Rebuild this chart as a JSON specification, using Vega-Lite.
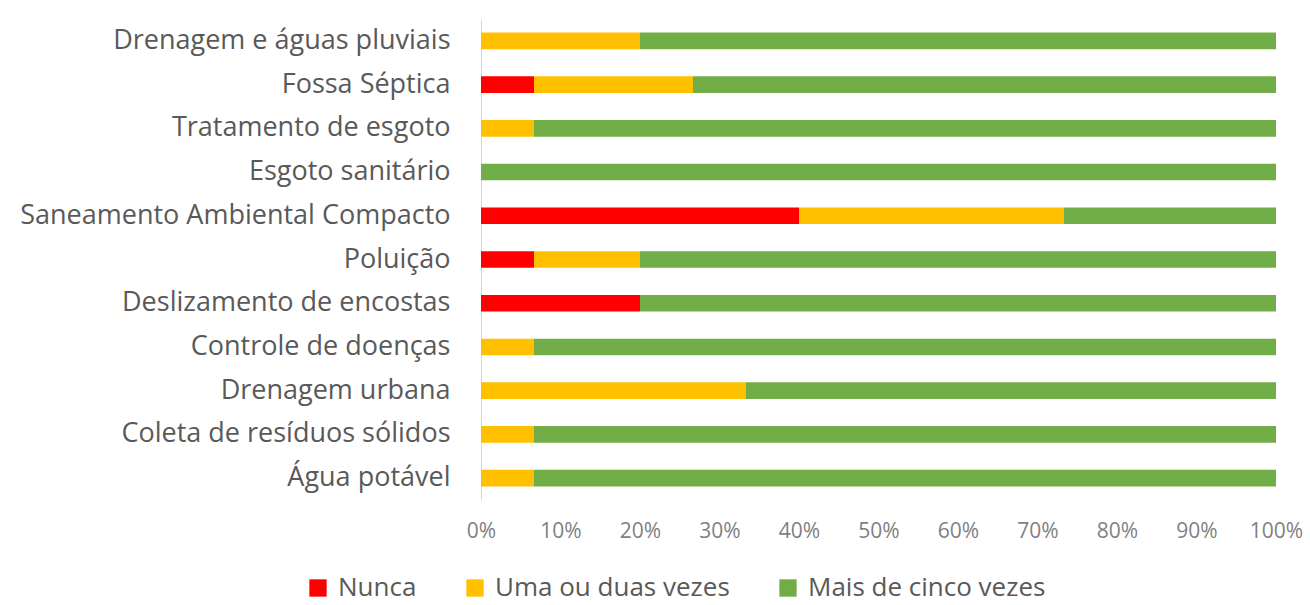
{
  "$schema": "https://vega.github.io/schema/vega-lite/v6.json",
  "width": 795,
  "height": 481,
  "autosize": {"type": "none"},
  "padding": {"left": 481, "top": 19, "right": 34, "bottom": 105},
  "background": "white",
  "config": {"view": {"stroke": null}, "font": "Open Sans"},
  "data": {
    "values": [
      {"tema": "Drenagem e águas pluviais", "resposta": "Uma ou duas vezes", "n": 3, "ord": 2},
      {"tema": "Drenagem e águas pluviais", "resposta": "Mais de cinco vezes", "n": 12, "ord": 3},
      {"tema": "Fossa Séptica", "resposta": "Nunca", "n": 1, "ord": 1},
      {"tema": "Fossa Séptica", "resposta": "Uma ou duas vezes", "n": 3, "ord": 2},
      {"tema": "Fossa Séptica", "resposta": "Mais de cinco vezes", "n": 11, "ord": 3},
      {"tema": "Tratamento de esgoto", "resposta": "Uma ou duas vezes", "n": 1, "ord": 2},
      {"tema": "Tratamento de esgoto", "resposta": "Mais de cinco vezes", "n": 14, "ord": 3},
      {"tema": "Esgoto sanitário", "resposta": "Mais de cinco vezes", "n": 15, "ord": 3},
      {"tema": "Saneamento Ambiental Compacto", "resposta": "Nunca", "n": 6, "ord": 1},
      {"tema": "Saneamento Ambiental Compacto", "resposta": "Uma ou duas vezes", "n": 5, "ord": 2},
      {"tema": "Saneamento Ambiental Compacto", "resposta": "Mais de cinco vezes", "n": 4, "ord": 3},
      {"tema": "Poluição", "resposta": "Nunca", "n": 1, "ord": 1},
      {"tema": "Poluição", "resposta": "Uma ou duas vezes", "n": 2, "ord": 2},
      {"tema": "Poluição", "resposta": "Mais de cinco vezes", "n": 12, "ord": 3},
      {"tema": "Deslizamento de encostas", "resposta": "Nunca", "n": 3, "ord": 1},
      {"tema": "Deslizamento de encostas", "resposta": "Mais de cinco vezes", "n": 12, "ord": 3},
      {"tema": "Controle de doenças", "resposta": "Uma ou duas vezes", "n": 1, "ord": 2},
      {"tema": "Controle de doenças", "resposta": "Mais de cinco vezes", "n": 14, "ord": 3},
      {"tema": "Drenagem urbana", "resposta": "Uma ou duas vezes", "n": 5, "ord": 2},
      {"tema": "Drenagem urbana", "resposta": "Mais de cinco vezes", "n": 10, "ord": 3},
      {"tema": "Coleta de resíduos sólidos", "resposta": "Uma ou duas vezes", "n": 1, "ord": 2},
      {"tema": "Coleta de resíduos sólidos", "resposta": "Mais de cinco vezes", "n": 14, "ord": 3},
      {"tema": "Água potável", "resposta": "Uma ou duas vezes", "n": 1, "ord": 2},
      {"tema": "Água potável", "resposta": "Mais de cinco vezes", "n": 14, "ord": 3}
    ]
  },
  "mark": {"type": "bar"},
  "encoding": {
    "y": {
      "field": "tema",
      "type": "nominal",
      "sort": null,
      "scale": {"paddingInner": 0.62, "paddingOuter": 0.31},
      "axis": {
        "title": null,
        "labelFontSize": 27,
        "labelFont": "Open Sans",
        "labelColor": "#595959",
        "ticks": false,
        "domainColor": "#D9D9D9",
        "labelPadding": 31,
        "labelLimit": 500
      }
    },
    "x": {
      "field": "n",
      "type": "quantitative",
      "stack": "normalize",
      "axis": {
        "title": null,
        "format": "%",
        "values": [0, 0.1, 0.2, 0.3, 0.4, 0.5, 0.6, 0.7, 0.8, 0.9, 1],
        "grid": false,
        "domain": false,
        "ticks": false,
        "labelFontSize": 21,
        "labelFont": "Open Sans",
        "labelColor": "#7F7F7F",
        "labelPadding": 20,
        "labelFlush": false
      }
    },
    "color": {
      "field": "resposta",
      "type": "nominal",
      "scale": {
        "domain": ["Nunca", "Uma ou duas vezes", "Mais de cinco vezes"],
        "range": ["#FF0000", "#FFC000", "#70AD47"]
      },
      "legend": {
        "title": null,
        "orient": "none",
        "direction": "horizontal",
        "legendX": -176,
        "legendY": 556,
        "symbolType": "square",
        "symbolSize": 300,
        "symbolStrokeWidth": 0,
        "labelFontSize": 26,
        "labelFont": "Open Sans",
        "labelColor": "#595959",
        "labelOffset": 7,
        "columnPadding": 45,
        "labelLimit": 400
      }
    },
    "order": {"field": "ord"}
  }
}
